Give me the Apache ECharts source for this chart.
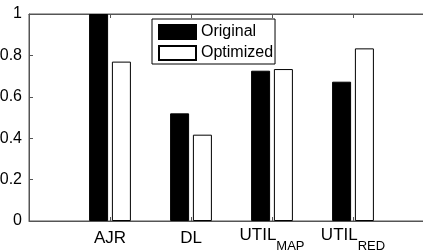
<!DOCTYPE html>
<html>
<head>
<meta charset="utf-8">
<script src="https://cdn.jsdelivr.net/npm/echarts@6/dist/echarts.min.js"></script>
<style>html,body{margin:0;padding:0;background:#fff;}#c{width:423px;height:250px;}</style>
</head>
<body>
<div id="c"></div>
<script>
var categories = ['AJR', 'DL', 'UTIL_MAP', 'UTIL_RED'];
var original = [1.0, 0.52, 0.726, 0.673];
var optimized = [0.77, 0.417, 0.734, 0.834];
var yTicks = [0, 0.2, 0.4, 0.6, 0.8, 1];

var FONT = "'Liberation Sans', Arial, Helvetica, sans-serif";
var AX = '#555555';

function fmtCat(v) {
  var i = Math.round(v) - 1;
  if (i < 0 || i >= categories.length || Math.abs(v - Math.round(v)) > 1e-6) return '';
  var parts = categories[i].split('_');
  if (parts.length === 2) return '{a|' + parts[0] + '}{s|' + parts[1] + '}';
  return '{p|' + parts[0] + '}';
}

var chart = echarts.init(document.getElementById('c'), null, {renderer: 'canvas'});
chart.setOption({
  animation: false,
  backgroundColor: '#fff',
  textStyle: {fontFamily: FONT},
  grid: {left: 29, top: 14, bottom: 29, width: 405, show: true, borderColor: AX, borderWidth: 1,
         containLabel: false, outerBoundsMode: 'none'},
  legend: {
    orient: 'vertical', left: 152, top: 19,
    itemWidth: 37, itemHeight: 14, itemGap: 5,
    icon: 'rect',
    backgroundColor: '#fff', borderColor: '#000', borderWidth: 1,
    padding: [5, 2, 3, 6],
    textStyle: {fontFamily: FONT, fontSize: 16, lineHeight: 16, color: '#000'},
    data: ['Original', 'Optimized']
  },
  xAxis: [{
    type: 'value', min: 0, max: 5, interval: 1, position: 'bottom',
    splitLine: {show: false},
    axisLine: {show: true, lineStyle: {color: AX}},
    axisTick: {show: true, inside: true, length: 4, lineStyle: {color: AX}},
    axisLabel: {
      margin: 10, color: '#000', fontFamily: FONT, fontSize: 17,
      formatter: fmtCat,
      rich: {
        p: {fontSize: 17, fontFamily: FONT, color: '#000', lineHeight: 18, padding: [3, 0, 7, 0]},
        a: {fontSize: 17, fontFamily: FONT, color: '#000', lineHeight: 18, padding: [0, 0, 10, 0]},
        s: {fontSize: 13, fontFamily: FONT, color: '#000', lineHeight: 14, padding: [13, 0, 1, 0]}
      }
    }
  }, {
    type: 'value', min: 0, max: 5, interval: 1, position: 'top',
    splitLine: {show: false},
    axisLine: {show: true, lineStyle: {color: AX}},
    axisTick: {show: true, inside: true, length: 4, lineStyle: {color: AX}},
    axisLabel: {show: false}
  }],
  yAxis: {
    type: 'value', min: yTicks[0], max: yTicks[yTicks.length - 1], interval: 0.2,
    splitLine: {show: false},
    axisLine: {show: true, lineStyle: {color: AX}},
    axisTick: {show: true, inside: true, length: 4, lineStyle: {color: AX}},
    axisLabel: {margin: 7, color: '#000', fontFamily: FONT, fontSize: 16}
  },
  series: [{
    name: 'Original', type: 'bar', xAxisIndex: 0,
    barWidth: 19, barGap: '20%',
    itemStyle: {color: '#000', borderColor: '#000', borderWidth: 1},
    data: original.map(function (v, i) { return [i + 1, v]; })
  }, {
    name: 'Optimized', type: 'bar', xAxisIndex: 0,
    barWidth: 19, barGap: '20%',
    itemStyle: {color: '#fff', borderColor: '#000', borderWidth: 1},
    data: optimized.map(function (v, i) { return [i + 1, v]; })
  }]
});
</script>
</body>
</html>
